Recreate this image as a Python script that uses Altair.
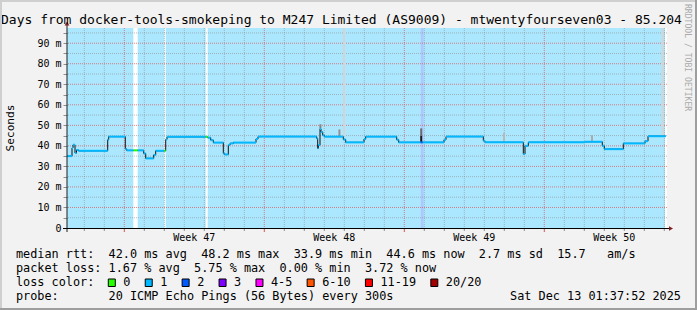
import altair as alt
import pandas as pd

# ------------------------------------------------------------------ data
TITLE = "Days from docker-tools-smokeping to M247 Limited (AS9009) - mtwentyfourseven03 - 85.204"
WATERMARK = "RRDTOOL / TOBI OETIKER"
Y_TITLE = "Seconds"

# median RTT as steps: start in days from the left edge of the 30-day window, value in ms
seg_start = [0.00, 0.25, 0.30, 0.40, 0.475, 0.575, 2.035, 2.085, 2.915, 2.985,
             3.33, 3.535, 3.835, 3.935, 4.335, 4.435, 4.865, 4.935, 5.00, 6.935,
             7.035, 7.185, 7.315, 7.815, 7.885, 8.065, 8.15, 8.315, 9.45, 9.55,
             12.485, 12.535, 12.565, 12.65, 12.70, 12.785, 12.865, 13.815, 13.935, 14.85,
             14.935, 16.485, 16.585, 17.685, 17.785, 18.85, 18.95, 20.815, 20.9, 22.815,
             22.9, 23.065, 25.9, 26.765, 26.865, 27.815, 28.9, 29.05]
seg_last_end = 29.935
seg_ms = [35.0, 39.0, 40.5, 36.5, 38.0, 37.6, 43.0, 44.5, 38.5, 37.8,
          37.8, 37.8, 36.3, 33.9, 35.6, 37.6, 37.6, 43.1, 44.4, 44.4,
          44.0, 42.8, 41.6, 36.3, 35.8, 40.4, 41.2, 41.6, 43.4, 44.5,
          43.6, 38.8, 40.4, 48.2, 46.8, 45.2, 44.5, 43.1, 41.7, 43.3,
          44.5, 43.0, 41.7, 41.7, 41.7, 43.0, 44.5, 42.5, 41.7, 36.0,
          40.0, 41.7, 42.0, 40.0, 38.4, 41.2, 42.3, 44.7]
seg_loss = ["1", "1", "1", "1", "1", "1", "1", "1", "1", "1",
            "0", "1", "1", "1", "1", "1", "0", "1", "1", "0",
            "1", "1", "1", "1", "1", "1", "1", "1", "1", "1",
            "1", "1", "1", "1", "1", "1", "1", "1", "1", "1",
            "1", "1", "1", "2", "1", "1", "1", "1", "1", "1",
            "1", "1", "1", "1", "1", "1", "1", "1"]

# loss background periods (days)
bg_start = [0.0, 3.535, 4.935, 7.035, 17.685, 17.835]
bg_end = [3.315, 4.865, 6.935, 17.685, 17.835, 29.9]
bg_loss = ["1", "1", "1", "1", "2", "1"]

# smoke (ping spread) spikes
smoke_day = [12.67, 13.62, 13.86, 17.71, 17.71, 21.85, 26.25, 29.77]
smoke_lo = [48.2, 44.6, 44.6, 41.7, 45.0, 42.0, 41.8, 44.7]
smoke_hi = [50.5, 48.0, 97.4, 45.0, 48.5, 46.4, 45.2, 97.4]
smoke_density = [0.45, 0.4, 0.15, 0.9, 0.55, 0.25, 0.3, 0.15]

# time grid
first_midnight = 0.865
week_starts = [2.865, 9.865, 16.865, 23.865]
week_labels = ["Week 47", "Week 48", "Week 49", "Week 50"]
y_ticks = list(range(0, 100, 5))

loss_labels = ["0", "1", "2", "3", "4-5", "6-10", "11-19", "20/20"]
loss_colors = ["#26ff00", "#00b8ff", "#0059ff", "#7e00ff", "#ff00ff", "#ff5500", "#ff0000", "#a10000"]

legend_rows = [
    "median rtt:  42.0 ms avg  48.2 ms max  33.9 ms min  44.6 ms now  2.7 ms sd  15.7   am/s",
    "packet loss: 1.67 % avg  5.75 % max  0.00 % min  3.72 % now",
    "loss color:",
    "probe:       20 ICMP Echo Pings (56 Bytes) every 300s",
]
timestamp = "Sat Dec 13 01:37:52 2025"

# ------------------------------------------------------------------ layout / style
W, H = 600, 200
PAD = {"left": 67, "top": 28, "right": 30, "bottom": 82}
MONO = "DejaVu Sans Mono"
NB = "\u00a0"
LEG_FS = 11.83
CHAR_W = 7.12
ROW_Y = [230.3, 244.3, 258.0, 272.0]
LEG_X = 16 - PAD["left"]

seg_df = pd.DataFrame({"start": seg_start, "end": seg_start[1:] + [seg_last_end],
                       "ms": seg_ms, "loss": seg_loss})
step_df = pd.DataFrame({"day": seg_start + [seg_last_end], "ms": seg_ms + [seg_ms[-1]]})
bg_df = pd.DataFrame({"start": bg_start, "end": bg_end, "loss": bg_loss})
smoke_df = pd.DataFrame({"day": smoke_day, "lo": smoke_lo, "hi": smoke_hi, "density": smoke_density})
day_lines = [first_midnight + k for k in range(30) if first_midnight + k < 30]
minor_v = pd.DataFrame({"d": [d for d in day_lines if all(abs(d - w) > 1e-6 for w in week_starts)]})
major_v = pd.DataFrame({"d": week_starts})
week_df = pd.DataFrame({"pos": [w + 3.5 for w in week_starts], "label": week_labels})
minor_h = pd.DataFrame({"v": [v for v in y_ticks if v % 10 != 0]})
major_h = pd.DataFrame({"v": [v for v in y_ticks if v % 10 == 0 and v > 0]})
dummy = pd.DataFrame({"a": [0]})

xsc = alt.Scale(domain=[0, 30], nice=False, zero=False)
ysc = alt.Scale(domain=[0, 97.4], nice=False, zero=False)
loss_scale = alt.Scale(domain=loss_labels, range=loss_colors)

yaxis = alt.Axis(
    values=y_ticks,
    labelExpr=f"datum.value % 10 == 0 ? (datum.value == 0 ? '0{NB}{NB}' : datum.value + '{NB}m') : ''",
    labelFont=MONO, labelFontSize=10, labelColor="black", labelPadding=2,
    labelFlush=False, labelOverlap=False, labelAlign="right", labelBaseline="middle",
    tickSize=4, tickColor="#8f8f8f", tickWidth=1, domain=False, grid=False,
    title=Y_TITLE, titleFont=MONO, titleFontSize=11.1, titleFontWeight="normal",
    titleColor="black", titleAngle=270, titleAlign="center", titleBaseline="middle",
    titleX=-57, titleY=99.5,
)


def X(f):
    return alt.X(f, type="quantitative", scale=xsc, axis=None)


def Y(f):
    return alt.Y(f, type="quantitative", scale=ysc, axis=yaxis)


layers = []
layers.append(alt.Chart(bg_df).mark_rect(opacity=0.33).encode(
    x=X("start"), x2="end", color=alt.Color("loss:N", scale=loss_scale, legend=None)))
layers.append(alt.Chart(minor_v).mark_rule(color="#8f8f8f", opacity=0.6, strokeDash=[1, 1]).encode(x=X("d")))
layers.append(alt.Chart(major_v).mark_rule(color="#de4f4f", opacity=0.7, strokeDash=[1, 1]).encode(x=X("d")))
layers.append(alt.Chart(minor_h).mark_rule(color="#8f8f8f", opacity=0.6, strokeDash=[1, 1]).encode(y=Y("v")))
layers.append(alt.Chart(major_h).mark_rule(color="#de4f4f", opacity=0.7, strokeDash=[1, 1]).encode(y=Y("v")))
layers.append(alt.Chart(smoke_df).mark_rule(strokeWidth=2).encode(
    x=X("day"), y=Y("lo"), y2="hi",
    stroke=alt.Stroke("density:Q", scale=alt.Scale(domain=[0, 1], range=["#ffffff", "#000000"]), legend=None)))
layers.append(alt.Chart(step_df).mark_line(interpolate="step-after", color="#111111", strokeWidth=1).encode(
    x=X("day"), y=Y("ms")))
layers.append(alt.Chart(seg_df).mark_rule(strokeWidth=2).encode(
    x=X("start"), x2="end", y=Y("ms"), color=alt.Color("loss:N", scale=loss_scale, legend=None)))

# axes lines, ticks, arrows
layers.append(alt.Chart(dummy).mark_rule(color="#1f1f1f", strokeWidth=1).encode(
    x=alt.value(0), y=alt.value(-3), y2=alt.value(204)))
layers.append(alt.Chart(dummy).mark_rule(color="#000000", strokeWidth=1).encode(
    x=alt.value(-4), x2=alt.value(603), y=alt.value(200.5)))
layers.append(alt.Chart(minor_v).mark_rule(color="#8f8f8f").encode(
    x=X("d"), y=alt.value(201), y2=alt.value(203)))
layers.append(alt.Chart(major_v).mark_rule(color="#de4f4f").encode(
    x=X("d"), y=alt.value(201), y2=alt.value(204)))
layers.append(alt.Chart(dummy).mark_point(shape="triangle-up", filled=True, size=22, color="#801f1f", opacity=1).encode(
    x=alt.value(0), y=alt.value(-4.5)))
layers.append(alt.Chart(dummy).mark_point(shape="triangle-right", filled=True, size=22, color="#801f1f", opacity=1).encode(
    x=alt.value(604), y=alt.value(200.5)))

# week labels
layers.append(alt.Chart(week_df).mark_text(font=MONO, fontSize=10, color="black", align="center",
                                           baseline="alphabetic").encode(
    x=X("pos"), y=alt.value(213), text="label:N"))

# title and watermark
layers.append(alt.Chart(dummy).mark_text(text=TITLE.replace(" ", NB), font=MONO, fontSize=13, color="black",
                                         align="left", baseline="alphabetic").encode(
    x=alt.value(1 - PAD["left"]), y=alt.value(-4)))
layers.append(alt.Chart(dummy).mark_text(text=WATERMARK.replace(" ", NB), font=MONO, fontSize=8.1, color="#aaaaaa",
                                         align="left", baseline="middle", angle=90).encode(
    x=alt.value(686.5 - PAD["left"]), y=alt.value(4 - PAD["top"])))

# legend rows
for row, yy in zip(legend_rows, ROW_Y):
    layers.append(alt.Chart(dummy).mark_text(text=row.replace(" ", NB), font=MONO, fontSize=LEG_FS,
                                             color="black", align="left", baseline="alphabetic").encode(
        x=alt.value(LEG_X), y=alt.value(yy)))
layers.append(alt.Chart(dummy).mark_text(text=timestamp.replace(" ", NB), font=MONO, fontSize=LEG_FS,
                                         color="black", align="right", baseline="alphabetic").encode(
    x=alt.value(681 - PAD["left"]), y=alt.value(ROW_Y[3])))

# loss colour swatches
sx = []
cur = 108.3
for lab in loss_labels:
    sx.append(cur - PAD["left"])
    cur += 29.8 + CHAR_W * len(lab)
sw_df = pd.DataFrame({"x0": sx, "x1": [s + 7 for s in sx], "tx": [s + 15 for s in sx],
                      "label": loss_labels, "c": loss_colors})
layers.append(alt.Chart(sw_df).mark_rect(stroke="black", strokeWidth=1).encode(
    x=alt.X("x0:Q", scale=None), x2="x1:Q", y=alt.value(251), y2=alt.value(258.5),
    fill=alt.Fill("c:N", scale=None)))
layers.append(alt.Chart(sw_df).mark_text(font=MONO, fontSize=LEG_FS, color="black", align="left",
                                         baseline="alphabetic").encode(
    x=alt.X("tx:Q", scale=None), y=alt.value(ROW_Y[2]), text="label:N"))

# 3D frame (rrdtool shade A / shade B)
L, T = -PAD["left"], -PAD["top"]
R, B = W + PAD["right"], H + PAD["bottom"]
layers.append(alt.Chart(dummy).mark_rect(color="#cfcfcf").encode(
    x=alt.value(L), x2=alt.value(R), y=alt.value(T), y2=alt.value(T + 2)))
layers.append(alt.Chart(dummy).mark_rect(color="#cfcfcf").encode(
    x=alt.value(L), x2=alt.value(L + 2), y=alt.value(T), y2=alt.value(B)))
layers.append(alt.Chart(dummy).mark_rect(color="#9e9e9e").encode(
    x=alt.value(L), x2=alt.value(R), y=alt.value(B - 2), y2=alt.value(B)))
layers.append(alt.Chart(dummy).mark_rect(color="#9e9e9e").encode(
    x=alt.value(R - 2), x2=alt.value(R), y=alt.value(T), y2=alt.value(B)))

chart = alt.layer(*layers).properties(
    width=W, height=H, padding=PAD, autosize=alt.AutoSizeParams(type="none"), background="#f2f2f2"
).configure_view(fill="white", stroke=None)

chart.save("out.html", embed_options={"renderer": "svg", "actions": False})
